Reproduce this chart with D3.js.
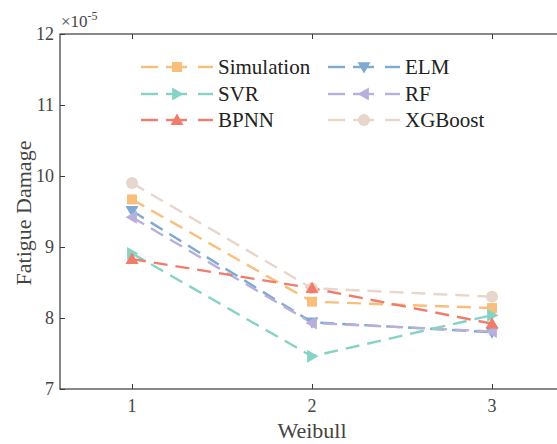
<!DOCTYPE html>
<html>
<head>
<meta charset="utf-8">
<script src="https://cdn.jsdelivr.net/npm/d3@7"></script>
</head>
<body style="margin:0">
<script>
let xValues = [1, 2, 3];
let seriesNames = ['Simulation', 'SVR', 'BPNN', 'ELM', 'RF', 'XGBoost'];
let simulation = [9.67, 8.23, 8.14];
let svr = [8.91, 7.46, 8.04];
let bpnn = [8.83, 8.42, 7.92];
let elm = [9.51, 7.94, 7.80];
let rf = [9.42, 7.93, 7.81];
let xgboost = [9.90, 8.42, 8.30];
let yTicks = [7, 8, 9, 10, 11, 12];

let seriesValues = [simulation, svr, bpnn, elm, rf, xgboost];
let colors = ['#F9BE7C', '#86D3C5', '#F07C6B', '#7CAAD1', '#B8B0DB', '#E6D6CC'];
let shapes = ['square', 'right', 'up', 'down', 'left', 'circle'];
// draw order: back to front
let drawOrder = [5, 0, 3, 4, 1, 2];

let w = 557, h = 444;
let padLeft = 60, padTop = 34, padRight = 564, padBottom = 389;
let fontName = `'Liberation Serif'`;

let svg = d3.select('body').append('svg')
    .attr('width', w)
    .attr('height', h);

let xScale = d3.scaleLinear().domain([0.6, 3.4]).range([padLeft, padRight]);
let yScale = d3.scaleLinear().domain([7, 12]).range([padBottom, padTop]);

let axisColor = '#3a3a3a';

// frame
svg.append('rect')
    .attr('x', padLeft).attr('y', padTop)
    .attr('width', padRight - padLeft).attr('height', padBottom - padTop)
    .attr('fill', 'none').attr('stroke', axisColor).attr('stroke-width', 1.2);

// tick marks from the d3 axes, labels written separately
let xAxis = svg.append('g')
    .attr('transform', `translate(0,${padBottom})`)
    .call(d3.axisBottom(xScale).tickValues(xValues).tickSizeInner(-5).tickSizeOuter(0).tickFormat(''));
let xTop = svg.append('g')
    .attr('transform', `translate(0,${padTop})`)
    .call(d3.axisTop(xScale).tickValues(xValues).tickSizeInner(-5).tickSizeOuter(0).tickFormat(''));
let yAxis = svg.append('g')
    .attr('transform', `translate(${padLeft},0)`)
    .call(d3.axisLeft(yScale).tickValues(yTicks).tickSizeInner(-5).tickSizeOuter(0).tickFormat(''));

[xAxis, xTop, yAxis].forEach(g => {
    g.select('.domain').remove();
    g.selectAll('line').attr('stroke', axisColor).attr('stroke-width', 1);
});

xValues.forEach(v => {
    svg.append('text').text(v)
        .attr('x', xScale(v)).attr('y', padBottom + 23)
        .attr('text-anchor', 'middle')
        .attr('fill', '#444')
        .attr('font-family', fontName).attr('font-size', 18);
});
yTicks.forEach(v => {
    svg.append('text').text(v)
        .attr('x', padLeft - 6).attr('y', yScale(v) + 6)
        .attr('text-anchor', 'end')
        .attr('fill', '#444')
        .attr('font-family', fontName).attr('font-size', 18);
});

svg.append('text')
    .text('Weibull')
    .attr('x', xScale(2))
    .attr('y', 438)
    .attr('text-anchor', 'middle')
    .attr('fill', '#444')
    .attr('font-family', fontName)
    .attr('font-size', 22);

svg.append('text')
    .text('Fatigue Damage')
    .attr('transform', `translate(31,213) rotate(-90)`)
    .attr('text-anchor', 'middle')
    .attr('fill', '#444')
    .attr('font-family', fontName)
    .attr('font-size', 22);

let expo = svg.append('text')
    .attr('x', 61).attr('y', 27)
    .attr('fill', '#444')
    .attr('font-family', fontName)
    .attr('font-size', 17);
expo.append('tspan').text('\u00d710');
expo.append('tspan').text('-5').attr('dy', -7).attr('font-size', 12);

let symbol = (g, shape, color, cx, cy) => {
    let s = 6.5;
    if (shape === 'square') {
        g.append('rect').attr('x', cx - 5).attr('y', cy - 5).attr('width', 10).attr('height', 10).attr('fill', color);
    } else if (shape === 'circle') {
        g.append('circle').attr('cx', cx).attr('cy', cy).attr('r', 6).attr('fill', color);
    } else {
        let pts;
        if (shape === 'up') pts = [[0, -s], [s, s * 0.75], [-s, s * 0.75]];
        if (shape === 'down') pts = [[0, s], [s, -s * 0.75], [-s, -s * 0.75]];
        if (shape === 'right') pts = [[s, 0], [-s * 0.75, s], [-s * 0.75, -s]];
        if (shape === 'left') pts = [[-s, 0], [s * 0.75, s], [s * 0.75, -s]];
        g.append('polygon')
            .attr('points', pts.map(p => [cx + p[0], cy + p[1]].join(',')).join(' '))
            .attr('fill', color);
    }
};

let line = d3.line()
    .x((d, i) => xScale(xValues[i]))
    .y(d => yScale(d));

let plot = svg.append('g');
drawOrder.forEach(k => {
    plot.append('path')
        .datum(seriesValues[k])
        .attr('d', line)
        .attr('fill', 'none')
        .attr('stroke', colors[k])
        .attr('stroke-width', 2.4)
        .attr('stroke-dasharray', '14,8');
});
drawOrder.forEach(k => {
    let g = plot.append('g');
    seriesValues[k].forEach((v, i) => symbol(g, shapes[k], colors[k], xScale(xValues[i]), yScale(v)));
});

// legend
let legend = svg.append('g');
let legendCols = [141, 328];
let legendRows = [67, 94, 120];
seriesNames.forEach((name, k) => {
    let col = Math.floor(k / 3), row = k % 3;
    let x0 = legendCols[col], y0 = legendRows[row];
    legend.append('line').attr('x1', x0).attr('x2', x0 + 17).attr('y1', y0).attr('y2', y0)
        .attr('stroke', colors[k]).attr('stroke-width', 2.4);
    legend.append('line').attr('x1', x0 + 25).attr('x2', x0 + 46).attr('y1', y0).attr('y2', y0)
        .attr('stroke', colors[k]).attr('stroke-width', 2.4);
    legend.append('line').attr('x1', x0 + 57).attr('x2', x0 + 72).attr('y1', y0).attr('y2', y0)
        .attr('stroke', colors[k]).attr('stroke-width', 2.4);
    symbol(legend, shapes[k], colors[k], x0 + 36, y0);
    legend.append('text').text(name)
        .attr('x', x0 + 77).attr('y', y0 + 7)
        .attr('fill', '#222')
        .attr('font-family', fontName)
        .attr('font-size', 21);
});
</script>
</body>
</html>
